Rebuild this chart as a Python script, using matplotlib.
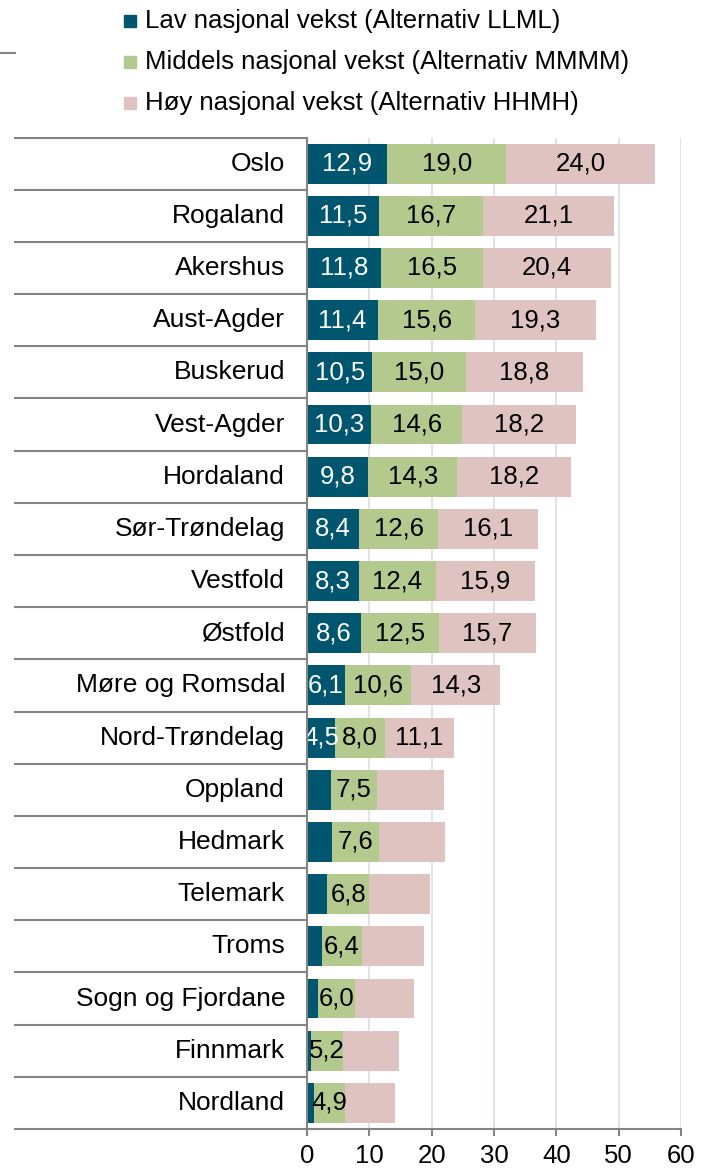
import matplotlib.pyplot as plt
from matplotlib.patches import Rectangle
from matplotlib.lines import Line2D
import matplotlib.transforms as mtransforms

regions = ["Oslo", "Rogaland", "Akershus", "Aust-Agder", "Buskerud", "Vest-Agder",
           "Hordaland", "Sør-Trøndelag", "Vestfold", "Østfold", "Møre og Romsdal",
           "Nord-Trøndelag", "Oppland", "Hedmark", "Telemark", "Troms",
           "Sogn og Fjordane", "Finnmark", "Nordland"]
low = [12.9, 11.5, 11.8, 11.4, 10.5, 10.3, 9.8, 8.4, 8.3, 8.6, 6.1, 4.5,
       3.8, 4.0, 3.2, 2.4, 1.7, 0.6, 1.2]
mid = [19.0, 16.7, 16.5, 15.6, 15.0, 14.6, 14.3, 12.6, 12.4, 12.5, 10.6, 8.0,
       7.5, 7.6, 6.8, 6.4, 6.0, 5.2, 4.9]
high = [24.0, 21.1, 20.4, 19.3, 18.8, 18.2, 18.2, 16.1, 15.9, 15.7, 14.3, 11.1,
        10.6, 10.6, 9.8, 9.9, 9.5, 9.0, 8.0]
series_names = ["Lav nasjonal vekst (Alternativ LLML)",
                "Middels nasjonal vekst (Alternativ MMMM)",
                "Høy nasjonal vekst (Alternativ HHMH)"]
n_labelled = 12  # rows where all three segments carry a label

colors = ["#00566e", "#b3c98d", "#dfc3c0"]
grey = "#848484"
fs = 18.5

plt.rcParams['font.family'] = ['Liberation Sans', 'DejaVu Sans']

W, H = 707, 1171
fig = plt.figure(figsize=(W / 100, H / 100), dpi=100)
ax = fig.add_axes([307 / W, 1 - 1129 / H, (681 - 307) / W, (1129 - 137.5) / H])

y = list(range(len(regions)))
left = [0] * len(regions)
for k, vals in enumerate([low, mid, high]):
    ax.barh(y, vals, left=left, height=0.765, color=colors[k], zorder=3)
    for i, v in enumerate(vals):
        if k != 1 and i >= n_labelled:
            continue
        txt = f"{v:.1f}".replace(".", ",")
        ax.text(left[i] + v / 2, i, txt, ha="center", va="center", fontsize=fs,
                color="white" if k == 0 else "black", zorder=4)
    left = [a + b for a, b in zip(left, vals)]

ax.set_xlim(0, 60)
ax.set_ylim(len(regions) - 0.5, -0.5)
ax.set_xticks(range(0, 61, 10))
ax.set_xticklabels([str(t) for t in range(0, 61, 10)], fontsize=fs)
ax.tick_params(axis="x", length=5, width=1.5, color=grey, pad=6)
ax.set_yticks([])
ax.grid(axis="x", color="#d9e0e0", linewidth=1.2, zorder=0)
for s in ["top", "right"]:
    ax.spines[s].set_visible(False)
for s in ["left", "bottom"]:
    ax.spines[s].set_color(grey)
    ax.spines[s].set_linewidth(1.5)
    ax.spines[s].set_zorder(5)

# category labels and the separator lines in the label area
trans = mtransforms.blended_transform_factory(ax.transAxes, ax.transData)
x_left = (15 - 307) / (681 - 307)
for i, name in enumerate(regions):
    ax.text(-22 / (681 - 307), i, name, transform=trans, ha="right", va="center",
            fontsize=19)
for b in range(len(regions) + 1):
    ax.add_line(Line2D([x_left, 0], [b - 0.5, b - 0.5], transform=trans,
                       color=grey, linewidth=1.5, clip_on=False))

# legend
for k, name in enumerate(series_names):
    yc = 1 - (21 + 41 * k) / H
    fig.patches.append(Rectangle((124 / W, yc - 6 / H), 12 / W, 12 / H,
                                 transform=fig.transFigure, color=colors[k]))
    fig.text(145 / W, yc, name, ha="left", va="center", fontsize=fs)

fig.lines.append(Line2D([0, 15 / W], [1 - 53 / H, 1 - 53 / H],
                        transform=fig.transFigure, color=grey, linewidth=1.5))

fig.savefig("out.png", dpi=100)
